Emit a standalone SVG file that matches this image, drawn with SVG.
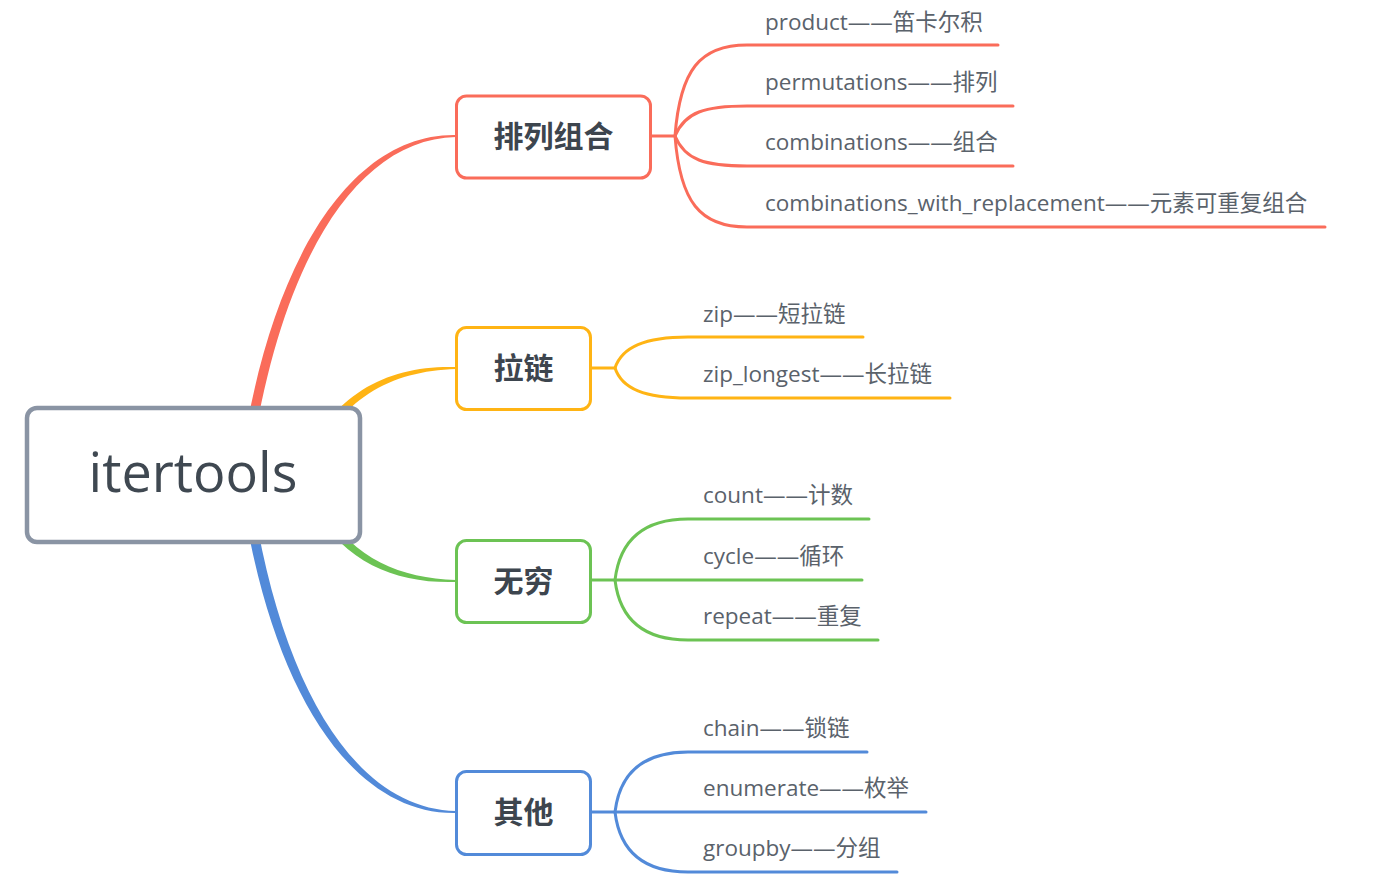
<svg xmlns="http://www.w3.org/2000/svg" width="1373" height="888" viewBox="0 0 1373 888">
<style>
  .lab{font-family:"Open Sans","Noto Sans CJK SC",sans-serif;font-size:22.5px;fill:#5a626b}
  .nl{font-family:"Noto Sans CJK SC","Open Sans",sans-serif;font-size:30px;font-weight:700;fill:#3d454e;text-anchor:middle}
  .root{font-family:"Open Sans","Noto Sans CJK SC",sans-serif;font-size:54px;fill:#3f4851;text-anchor:middle}
  .box{fill:#fff;stroke-width:3}
  .ln{fill:none;stroke-width:3;stroke-linecap:round}
  .red{stroke:#fa6c5a}.yel{stroke:#ffb414}.grn{stroke:#6cc354}.blu{stroke:#528ad9}
</style>
<rect width="1373" height="888" fill="#fff"/>
<g id="connectors">
  <path d="M240,470 C267,268 348,133 456,135 L456,137 C352,139 277,272 250,470 Z" fill="#fa6c5a"/>
  <path d="M301,468 C332,392 389,365 456,367 L456,369 C391,371 338,398 309,472 Z" fill="#ffb414"/>
  <path d="M301,482 C332,558 389,584 456,582 L456,580 C391,578 338,552 309,478 Z" fill="#6cc354"/>
  <path d="M240,480 C267,682 348,815 456,813 L456,811 C352,809 277,678 250,480 Z" fill="#528ad9"/>
  <g class="ln red">
    <path d="M651,136 H675"/>
    <path d="M675,136 C680,70 700,45 747,45 H998"/>
    <path d="M675,136 C685,112 705,106 747,106 H1013"/>
    <path d="M675,136 C685,160 705,166 747,166 H1013"/>
    <path d="M675,136 C680,202 700,227 747,227 H1325"/>
  </g>
  <g class="ln yel">
    <path d="M591,368 H615"/>
    <path d="M615,368 C622,347 645,337 688,337 H863"/>
    <path d="M615,368 C622,389 645,398 688,398 H950"/>
  </g>
  <g class="ln grn">
    <path d="M591,580 H615"/>
    <path d="M615,580 C620,539 645,519 688,519 H869"/>
    <path d="M615,580 H862"/>
    <path d="M615,580 C620,621 645,640 688,640 H878"/>
  </g>
  <g class="ln blu">
    <path d="M591,812 H615"/>
    <path d="M615,812 C620,771 645,752 688,752 H867"/>
    <path d="M615,812 H926"/>
    <path d="M615,812 C620,853 645,872 688,872 H897"/>
  </g>
</g>
<g id="root">
  <rect x="27" y="408" width="333" height="134" rx="10" fill="#fff" stroke="#8a94a4" stroke-width="4.5"/>
  <text class="root" x="193" y="492">itertools</text>
</g>
<g id="n-pailie">
  <rect class="box red" x="456.5" y="96" width="194" height="82" rx="10"/>
  <text class="nl" x="553.5" y="146.5">排列组合</text>
</g>
<g id="n-lalian">
  <rect class="box yel" x="456.5" y="327.5" width="134" height="82" rx="10"/>
  <text class="nl" x="523.5" y="378.5">拉链</text>
</g>
<g id="n-wuqiong">
  <rect class="box grn" x="456.5" y="540.5" width="134" height="82" rx="10"/>
  <text class="nl" x="523.5" y="591.5">无穷</text>
</g>
<g id="n-qita">
  <rect class="box blu" x="456.5" y="771.5" width="134" height="83" rx="10"/>
  <text class="nl" x="523.5" y="823">其他</text>
</g>
<g id="leaves">
  <g id="l-product"><text class="lab" x="765" y="30">product——笛卡尔积</text></g>
  <g id="l-permutations"><text class="lab" x="765" y="90">permutations——排列</text></g>
  <g id="l-combinations"><text class="lab" x="765" y="150">combinations——组合</text></g>
  <g id="l-cwr"><text class="lab" x="765" y="211">combinations_with_replacement——元素可重复组合</text></g>
  <g id="l-zip"><text class="lab" x="703" y="322">zip——短拉链</text></g>
  <g id="l-ziplongest"><text class="lab" x="703" y="382">zip_longest——长拉链</text></g>
  <g id="l-count"><text class="lab" x="703" y="503">count——计数</text></g>
  <g id="l-cycle"><text class="lab" x="703" y="564">cycle——循环</text></g>
  <g id="l-repeat"><text class="lab" x="703" y="624">repeat——重复</text></g>
  <g id="l-chain"><text class="lab" x="703" y="736">chain——锁链</text></g>
  <g id="l-enumerate"><text class="lab" x="703" y="796">enumerate——枚举</text></g>
  <g id="l-groupby"><text class="lab" x="703" y="856">groupby——分组</text></g>
</g>
</svg>
